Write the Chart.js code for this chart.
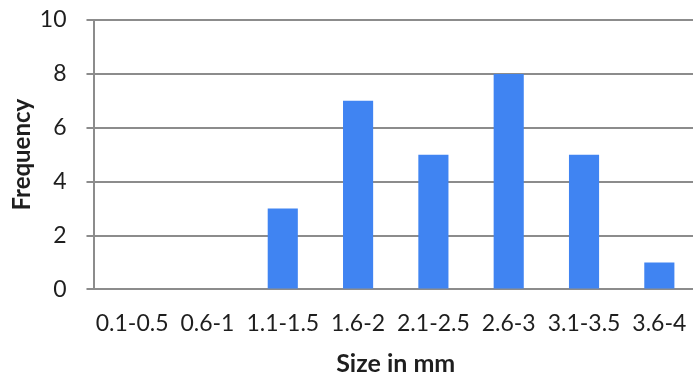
<!DOCTYPE html>
<html lang="en">
<head>
  <meta charset="UTF-8" />
  <title>Size in mm</title>
  <script src="https://cdn.jsdelivr.net/npm/chart.js"></script>
  <style>
    body {
      margin: 0;
      background: #fff;
      overflow: hidden;
    }
    .chart-container {
      position: relative;
      width: 700px;
      height: 376px;
    }
  </style>
</head>
<body>
  <div class="chart-container">
    <canvas id="sizeChart"></canvas>
  </div>

  <script>
    // Size classes (mm) and how many fell in each
    const sizeClasses = ['0.1-0.5', '0.6-1', '1.1-1.5', '1.6-2', '2.1-2.5', '2.6-3', '3.1-3.5', '3.6-4'];
    const frequency = [0, 0, 3, 7, 5, 8, 5, 1];
    const yTicks = [0, 2, 4, 6, 8, 10];

    const gridGray = '#8c8c8c';
    const textColor = '#1e1e1e';
    const fontFamily = "Lato, 'Open Sans', sans-serif";

    new Chart(document.getElementById('sizeChart').getContext('2d'), {
      type: 'bar',
      data: {
        labels: sizeClasses,
        datasets: [{
          label: 'Frequency',
          data: frequency,
          backgroundColor: '#4084f2',
          barPercentage: 0.4,
          categoryPercentage: 1.0
        }]
      },
      options: {
        responsive: true,
        maintainAspectRatio: false,
        animation: false,
        layout: { padding: { top: 20, right: 3, bottom: 0, left: 8 } },
        plugins: {
          legend: { display: false },
          tooltip: { enabled: false }
        },
        scales: {
          x: {
            // plot runs off the right edge in the original, so no room kept for the last label
            afterFit: axis => { axis.paddingLeft = 0; axis.paddingRight = 0; },
            grid: { display: false, drawTicks: false },
            border: { display: false },
            ticks: {
              color: textColor,
              font: { family: fontFamily, size: 23 },
              padding: 20,
              maxRotation: 0,
              autoSkip: false
            },
            title: {
              display: true,
              text: 'Size in mm',
              color: textColor,
              font: { family: fontFamily, size: 25, weight: 'bold' },
              // chart.js counts tick padding twice when sizing, pull the title back up
              padding: { top: -8, bottom: -3 }
            }
          },
          y: {
            min: 0,
            max: 10,
            afterBuildTicks: axis => { axis.ticks = yTicks.map(v => ({ value: v })); },
            // tick padding gets added above the top label too, drop that
            afterFit: axis => { axis.paddingTop = 0; },
            grid: { color: gridGray, lineWidth: 2, tickLength: 8 },
            border: { display: true, color: gridGray, width: 2 },
            ticks: {
              color: textColor,
              font: { family: fontFamily, size: 23 },
              padding: 20
            },
            title: {
              display: true,
              text: 'Frequency',
              color: textColor,
              font: { family: fontFamily, size: 24, weight: 'bold' },
              padding: { top: 0, bottom: -17 }
            }
          }
        }
      }
    });
  </script>
</body>
</html>
